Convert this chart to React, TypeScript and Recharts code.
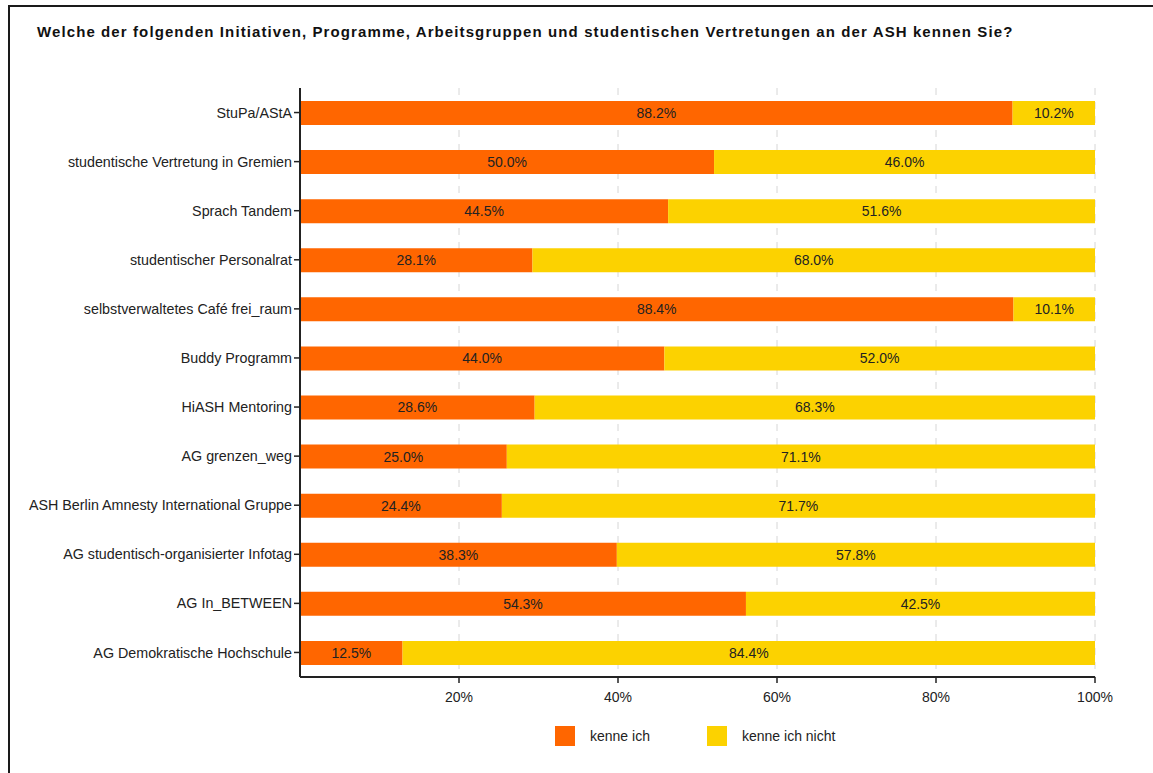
import React from 'react';
import { BarChart, Bar, XAxis, YAxis, CartesianGrid, LabelList, Legend } from 'recharts';

const categories = [
  'StuPa/AStA',
  'studentische Vertretung in Gremien',
  'Sprach Tandem',
  'studentischer Personalrat',
  'selbstverwaltetes Café frei_raum',
  'Buddy Programm',
  'HiASH Mentoring',
  'AG grenzen_weg',
  'ASH Berlin Amnesty International Gruppe',
  'AG studentisch-organisierter Infotag',
  'AG In_BETWEEN',
  'AG Demokratische Hochschule',
];
const kenneIch = [88.2, 50.0, 44.5, 28.1, 88.4, 44.0, 28.6, 25.0, 24.4, 38.3, 54.3, 12.5];
const kenneIchNicht = [10.2, 46.0, 51.6, 68.0, 10.1, 52.0, 68.3, 71.1, 71.7, 57.8, 42.5, 84.4];
const xTicks = [0.2, 0.4, 0.6, 0.8, 1.0];
const seriesNames = ['kenne ich', 'kenne ich nicht'];
const colors = ['#FF6600', '#FCD200'];
const title =
  'Welche der folgenden Initiativen, Programme, Arbeitsgruppen und studentischen Vertretungen an der ASH kennen Sie?';

const data = categories.map((name, i) => ({ name, a: kenneIch[i], b: kenneIchNicht[i] }));

const FONT = 'Arial, "Liberation Sans", sans-serif';
const fmt = (v: any) => `${Number(v).toFixed(1)}%`;

const LegendContent = () => (
  <div style={{ fontFamily: FONT, fontSize: 14, color: '#222' }}>
    <div style={{ position: 'absolute', left: 555, top: 0, display: 'flex', alignItems: 'center' }}>
      <div style={{ width: 20, height: 20, background: colors[0] }} />
      <span style={{ marginLeft: 15 }}>{seriesNames[0]}</span>
    </div>
    <div style={{ position: 'absolute', left: 707, top: 0, display: 'flex', alignItems: 'center' }}>
      <div style={{ width: 20, height: 20, background: colors[1] }} />
      <span style={{ marginLeft: 15 }}>{seriesNames[1]}</span>
    </div>
  </div>
);

export default function App() {
  return (
    <div
      style={{
        position: 'absolute',
        left: 0,
        top: 0,
        width: 1153,
        height: 773,
        overflow: 'hidden',
        background: '#fff',
        fontFamily: FONT,
      }}
    >
      <div
        style={{
          position: 'absolute',
          left: 8,
          top: 5,
          width: 1300,
          height: 900,
          border: '2px solid #1a1a1a',
          boxSizing: 'border-box',
        }}
      />
      <div
        style={{
          position: 'absolute',
          left: 37,
          top: 23,
          fontSize: 15,
          fontWeight: 'bold',
          letterSpacing: 1.1,
          color: '#111',
          whiteSpace: 'nowrap',
          fontFamily: FONT,
        }}
      >
        {title}
      </div>
      <div style={{ position: 'absolute', left: 0, top: 0 }}>
        <BarChart
          width={1153}
          height={773}
          data={data}
          layout="vertical"
          stackOffset="expand"
          barSize={24}
          margin={{ top: 88, right: 58, bottom: 66, left: 0 }}
        >
          <CartesianGrid horizontal={false} vertical stroke="#d6d6d6" strokeDasharray="7 7" />
          <XAxis
            type="number"
            domain={[0, 1]}
            ticks={xTicks}
            tickFormatter={(v: number) => `${Math.round(v * 100)}%`}
            height={30}
            tickSize={6}
            tickMargin={9}
            axisLine={{ stroke: '#222', strokeWidth: 2 }}
            tickLine={{ stroke: '#222', strokeWidth: 1.5 }}
            tick={{ fill: '#222', fontSize: 14, fontFamily: FONT }}
            allowDataOverflow
          />
          <YAxis
            type="category"
            dataKey="name"
            width={300}
            tickSize={6}
            tickMargin={2}
            interval={0}
            axisLine={{ stroke: '#222', strokeWidth: 2 }}
            tickLine={{ stroke: '#222', strokeWidth: 1.5 }}
            tick={{ fill: '#222', fontSize: 14.3, fontFamily: FONT }}
          />
          <Legend
            layout="horizontal"
            verticalAlign="middle"
            align="center"
            content={<LegendContent />}
            wrapperStyle={{ position: 'absolute', top: 726, left: 0, width: 1153, height: 22 }}
          />
          <Bar dataKey="a" name={seriesNames[0]} stackId="s" fill={colors[0]} isAnimationActive={false}>
            <LabelList dataKey="a" position="center" formatter={fmt} fill="#222" fontSize={14} fontFamily={FONT} />
          </Bar>
          <Bar dataKey="b" name={seriesNames[1]} stackId="s" fill={colors[1]} isAnimationActive={false}>
            <LabelList dataKey="b" position="center" formatter={fmt} fill="#222" fontSize={14} fontFamily={FONT} />
          </Bar>
        </BarChart>
      </div>
    </div>
  );
}
